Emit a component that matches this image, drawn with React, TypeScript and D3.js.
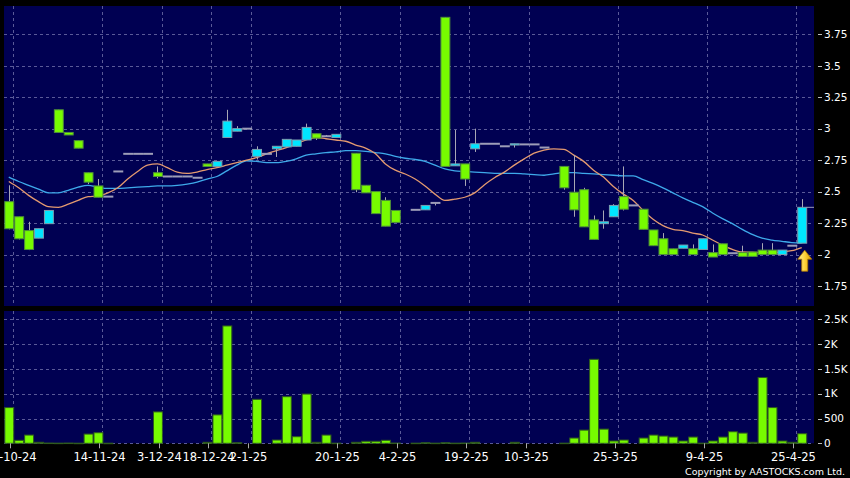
import * as d3 from 'd3'

// daily bars, one slot per trading day shown (null = empty slot)
const opens: (number | null)[] = [
  2.42, 2.30, 2.19, 2.13, 2.245, 3.15, 2.97, 2.905, 2.65, 2.545,
  2.46, 2.66, 2.80, 2.80, 2.80, 2.65, 2.62, 2.62, 2.62, 2.61,
  2.72, 2.70, 2.93, 2.98, 3.00, 2.78, 2.80, 2.84, 2.855, 2.86,
  2.91, 2.96, 2.94, 2.93, null, 2.805, 2.55, 2.50, 2.43, 2.35,
  null, 2.355, 2.355, 2.41, 3.885, 2.705, 2.72, 2.84, 2.88, 2.88,
  2.86, 2.87, 2.875, 2.875, 2.85, null, 2.70, 2.495, 2.515, 2.275,
  2.245, 2.30, 2.46, 2.39, 2.36, 2.195, 2.125, 2.045, 2.05, 2.045,
  2.04, 2.015, 2.085, 2.01, 2.015, 2.02, 2.035, 2.035, 2.00, 2.07,
  2.09,
]
const highs: (number | null)[] = [
  2.55, 2.30, 2.26, 2.205, 2.35, 3.15, 2.97, 2.905, 2.65, 2.60,
  2.46, 2.66, 2.80, 2.80, 2.80, 2.70, 2.62, 2.62, 2.62, 2.61,
  2.72, 2.74, 3.15, 3.02, 3.00, 2.86, 2.80, 2.86, 2.915, 2.91,
  3.04, 2.96, 2.95, 2.955, null, 2.805, 2.55, 2.50, 2.455, 2.35,
  null, 2.355, 2.39, 2.41, 3.885, 2.99, 2.72, 3.00, 2.88, 2.88,
  2.86, 2.88, 2.875, 2.875, 2.85, null, 2.70, 2.79, 2.53, 2.31,
  2.35, 2.40, 2.70, 2.39, 2.36, 2.195, 2.17, 2.045, 2.075, 2.08,
  2.125, 2.08, 2.085, 2.01, 2.07, 2.02, 2.09, 2.09, 2.035, 2.07,
  2.44,
]
const lows: (number | null)[] = [
  2.20, 2.12, 2.035, 2.13, 2.245, 2.97, 2.95, 2.845, 2.56, 2.455,
  2.46, 2.66, 2.80, 2.80, 2.80, 2.605, 2.62, 2.62, 2.62, 2.61,
  2.70, 2.70, 2.93, 2.98, 3.00, 2.755, 2.80, 2.775, 2.855, 2.86,
  2.91, 2.91, 2.94, 2.93, null, 2.495, 2.49, 2.325, 2.225, 2.255,
  null, 2.355, 2.355, 2.39, 2.70, 2.705, 2.545, 2.815, 2.88, 2.88,
  2.86, 2.85, 2.875, 2.875, 2.85, null, 2.515, 2.30, 2.22, 2.12,
  2.205, 2.30, 2.35, 2.39, 2.20, 2.07, 2.00, 2.00, 2.05, 2.00,
  2.04, 1.98, 2.00, 2.01, 1.985, 1.985, 2.00, 2.00, 2.00, 2.07,
  2.09,
]
const closes: (number | null)[] = [
  2.205, 2.125, 2.04, 2.205, 2.35, 2.97, 2.95, 2.845, 2.575, 2.455,
  2.46, 2.66, 2.80, 2.80, 2.80, 2.62, 2.62, 2.62, 2.62, 2.61,
  2.70, 2.74, 3.06, 3.00, 3.00, 2.835, 2.80, 2.86, 2.915, 2.91,
  3.01, 2.925, 2.94, 2.955, null, 2.515, 2.49, 2.325, 2.225, 2.255,
  null, 2.355, 2.39, 2.41, 2.70, 2.72, 2.60, 2.88, 2.88, 2.88,
  2.86, 2.88, 2.875, 2.875, 2.85, null, 2.53, 2.355, 2.22, 2.12,
  2.26, 2.39, 2.36, 2.39, 2.20, 2.07, 2.00, 2.00, 2.075, 2.00,
  2.125, 1.98, 2.00, 2.01, 1.985, 1.985, 2.00, 2.00, 2.035, 2.07,
  2.375,
]
const volumes: (number | null)[] = [
  720, 60, 166, 20, 5, 3, 5, 2, 186, 213,
  2, 0, 0, 0, 0, 633, 0, 0, 0, 0,
  20, 573, 2366, 10, 0, 886, 0, 66, 940, 133,
  993, 20, 166, 3, null, 20, 40, 40, 60, 5,
  null, 3, 10, 3, 10, 3, 5, 20, 0, 0,
  0, 20, 0, 0, 0, null, 3, 106, 266, 1693,
  286, 46, 66, 0, 106, 166, 146, 126, 46, 126,
  3, 46, 126, 233, 206, 20, 1326, 720, 46, 20,
  193,
]

// moving averages
const ma10 = [
  2.58, 2.53, 2.47, 2.42, 2.38, 2.375, 2.40, 2.43, 2.46, 2.465,
  2.49, 2.53, 2.60, 2.66, 2.71, 2.72, 2.69, 2.655, 2.645, 2.655,
  2.675, 2.69, 2.71, 2.73, 2.75, 2.77, 2.80, 2.825, 2.85, 2.88,
  2.91, 2.93, 2.92, 2.91, 2.90, 2.87, 2.845, 2.80, 2.72, 2.67,
  2.64, 2.60, 2.545, 2.48, 2.43, 2.44, 2.455, 2.49, 2.555, 2.61,
  2.655, 2.71, 2.76, 2.805, 2.83, 2.84, 2.835, 2.79, 2.74, 2.67,
  2.615, 2.54, 2.48, 2.43, 2.35, 2.28, 2.23, 2.20, 2.19, 2.17,
  2.155, 2.115, 2.075, 2.04, 2.02, 2.018, 2.015, 2.015, 2.02, 2.03,
  2.055,
]
const ma20 = [
  2.615, 2.58, 2.55, 2.52, 2.49, 2.49, 2.51, 2.535, 2.55, 2.535,
  2.525, 2.525, 2.53, 2.535, 2.54, 2.545, 2.545, 2.55, 2.56, 2.575,
  2.60, 2.62, 2.665, 2.71, 2.745, 2.74, 2.73, 2.73, 2.74, 2.76,
  2.79, 2.80, 2.81, 2.815, 2.825, 2.825, 2.82, 2.81, 2.80, 2.78,
  2.765, 2.755, 2.74, 2.71, 2.68, 2.665, 2.66, 2.655, 2.65, 2.645,
  2.645, 2.645, 2.64, 2.635, 2.63, 2.64, 2.65, 2.65, 2.645, 2.64,
  2.635, 2.63, 2.625, 2.625, 2.595, 2.565, 2.53, 2.49, 2.45, 2.415,
  2.38, 2.33, 2.285, 2.245, 2.20, 2.16, 2.13, 2.115, 2.105, 2.095,
  2.09,
]

const tickSlots = [0, 9, 15, 20, 24, 33, 39, 46, 52, 61, 70, 79]
const tickLabels = [
  '24-10-24', '14-11-24', '3-12-24', '18-12-24', '2-1-25', '20-1-25',
  '4-2-25', '19-2-25', '10-3-25', '25-3-25', '9-4-25', '25-4-25',
]
const priceTicks = [1.75, 2, 2.25, 2.5, 2.75, 3, 3.25, 3.5, 3.75]
const volumeTicks = [0, 500, 1000, 1500, 2000, 2500]
const volumeTickLabels = ['0', '500', '1K', '1.5K', '2K', '2.5K']

const W = 850
const H = 478
const left = 4
const right = 814
const priceTop = 6
const priceBottom = 306
const volTop = 311
const volBottom = 443.3

const BG = '#000052'
const GRID = '#5a5a98'
const GREEN = '#77fb00'
const GREEN_EDGE = '#4f8f3a'
const CYAN = '#00e6ff'
const CYAN_EDGE = '#7b9fb0'
const DOJI = '#9d9db8'
const WICK = '#a8a8b4'
const FONT = '"DejaVu Sans", Verdana, sans-serif'

export default function App() {
  const slots = d3.range(82)
  const x = d3.scaleBand<number>()
    .domain(slots)
    .range([left + 0.3, left + 0.3 + 82 * 9.9])
    .paddingInner(0.1)
    .paddingOuter(0)
  const bw = x.bandwidth()

  const y = d3.scaleLinear().domain([2, 3.75]).range([254.5, 34.3])
  const yv = d3.scaleLinear().domain([0, 2500]).range([volBottom, 319.3])

  const maLine = d3.line<number>()
    .x((_, i) => (x(i) ?? 0) + bw / 2)
    .y(d => y(d))
    .curve(d3.curveMonotoneX)

  const gridX = tickSlots.map(i => Math.round((x(i) ?? 0) + bw) + 0.5)

  const candles = opens.map((o, i) => ({
    i, o, h: highs[i], l: lows[i], c: closes[i], v: volumes[i],
  }))

  const last = candles[candles.length - 1]
  const lastX = (x(last.i) ?? 0) + bw / 2
  const arrowX = lastX + 3
  const arrowTip = y(last.l as number) + 7

  return (
    <svg width={W} height={H} style={{ position: 'absolute', left: 0, top: 0, background: '#000' }}>
      <defs>
        <clipPath id="priceClip">
          <rect x={left} y={priceTop} width={right - left} height={priceBottom - priceTop} />
        </clipPath>
        <linearGradient id="arrowFill" x1="0" y1="0" x2="1" y2="0">
          <stop offset="0%" stopColor="#fff3a0" />
          <stop offset="50%" stopColor="#ffd23a" />
          <stop offset="100%" stopColor="#d99a00" />
        </linearGradient>
      </defs>
      <rect x={0} y={0} width={W} height={H} fill="#000" />

      {/* price panel */}
      <rect x={left} y={priceTop} width={right - left} height={priceBottom - priceTop} fill={BG} />
      {priceTicks.map(t => (
        <line key={'pg' + t} x1={left} x2={right} y1={Math.round(y(t)) + 0.5} y2={Math.round(y(t)) + 0.5}
          stroke={GRID} strokeDasharray="3,3" />
      ))}
      {gridX.map((gx, k) => (
        <line key={'vg' + k} x1={gx} x2={gx} y1={priceTop} y2={priceBottom} stroke={GRID} strokeDasharray="3,3" />
      ))}

      <g clipPath="url(#priceClip)">
        <path d={maLine(ma20) ?? ''} fill="none" stroke="#3ea9ea" strokeWidth={1.3} />
        <path d={maLine(ma10) ?? ''} fill="none" stroke="#e49a70" strokeWidth={1.3} />

        {candles.map(d => {
          if (d.o == null || d.c == null || d.h == null || d.l == null) return null
          const x0 = (x(d.i) ?? 0)
          const cx = Math.round(x0 + bw / 2) + 0.5
          const doji = d.o === d.c
          const up = d.c > d.o
          const top = y(Math.max(d.o, d.c))
          const bot = y(Math.min(d.o, d.c))
          return (
            <g key={'c' + d.i}>
              {d.h > d.l && (
                <line x1={cx} x2={cx} y1={y(d.h)} y2={y(d.l)} stroke={WICK} strokeWidth={1} />
              )}
              {doji ? (
                <line x1={x0} x2={x0 + bw + 1} y1={top} y2={top} stroke={DOJI} strokeWidth={2} />
              ) : (
                <rect x={x0 + 0.5} y={top} width={bw} height={Math.max(1, bot - top)}
                  fill={up ? CYAN : GREEN} stroke={up ? CYAN_EDGE : GREEN_EDGE} strokeWidth={1} />
              )}
            </g>
          )
        })}

        {/* last price marker */}
        <line x1={(x(last.i) ?? 0) + bw + 0.5} x2={right} y1={y(last.c as number)} y2={y(last.c as number)}
          stroke={DOJI} strokeWidth={1} />

        <path
          d={`M${arrowX},${arrowTip} L${arrowX + 7},${arrowTip + 9} L${arrowX + 3},${arrowTip + 9} L${arrowX + 3},${arrowTip + 21} L${arrowX - 3},${arrowTip + 21} L${arrowX - 3},${arrowTip + 9} L${arrowX - 7},${arrowTip + 9} Z`}
          fill="url(#arrowFill)" stroke="#b07a00" strokeWidth={0.8}
        />
      </g>

      {priceTicks.map(t => (
        <g key={'pl' + t}>
          <line x1={818} x2={822} y1={Math.round(y(t)) + 0.5} y2={Math.round(y(t)) + 0.5} stroke="#bbb" />
          <text x={824} y={y(t)} dy="0.36em" fill="#fff" fontFamily={FONT} fontSize={10.5}>{t}</text>
        </g>
      ))}

      {/* volume panel */}
      <rect x={left} y={volTop} width={right - left} height={volBottom - volTop} fill={BG} />
      {volumeTicks.map(t => (
        <line key={'vgl' + t} x1={left} x2={right} y1={Math.round(yv(t)) + 0.5} y2={Math.round(yv(t)) + 0.5}
          stroke={GRID} strokeDasharray="3,3" />
      ))}
      {gridX.map((gx, k) => (
        <line key={'vvg' + k} x1={gx} x2={gx} y1={volTop} y2={volBottom} stroke={GRID} strokeDasharray="3,3" />
      ))}
      {candles.map(d => {
        if (d.v == null || d.v <= 0) return null
        const x0 = (x(d.i) ?? 0)
        const top = yv(d.v)
        return (
          <rect key={'v' + d.i} x={x0 + 0.5} y={top} width={bw} height={Math.max(0.5, volBottom - top)}
            fill={GREEN} stroke="#2f5a1e" strokeWidth={1} />
        )
      })}
      {volumeTicks.map((t, k) => (
        <g key={'vl' + t}>
          <line x1={818} x2={822} y1={Math.round(yv(t)) + 0.5} y2={Math.round(yv(t)) + 0.5} stroke="#bbb" />
          <text x={824} y={yv(t)} dy="0.36em" fill="#fff" fontFamily={FONT} fontSize={10.5}>{volumeTickLabels[k]}</text>
        </g>
      ))}

      {/* date axis */}
      {gridX.map((gx, k) => (
        <g key={'dt' + k}>
          <line x1={gx - 3} x2={gx - 3} y1={volBottom} y2={volBottom + 5} stroke="#aaa" />
          <text x={gx - 3} y={461} textAnchor="middle" fill="#fff" fontFamily={FONT} fontSize={11.5}>
            {tickLabels[k]}
          </text>
        </g>
      ))}

      <text x={845} y={475} textAnchor="end" fill="#fff" fontFamily={FONT} fontSize={9.5}>
        Copyright by AASTOCKS.com Ltd.
      </text>
    </svg>
  )
}
